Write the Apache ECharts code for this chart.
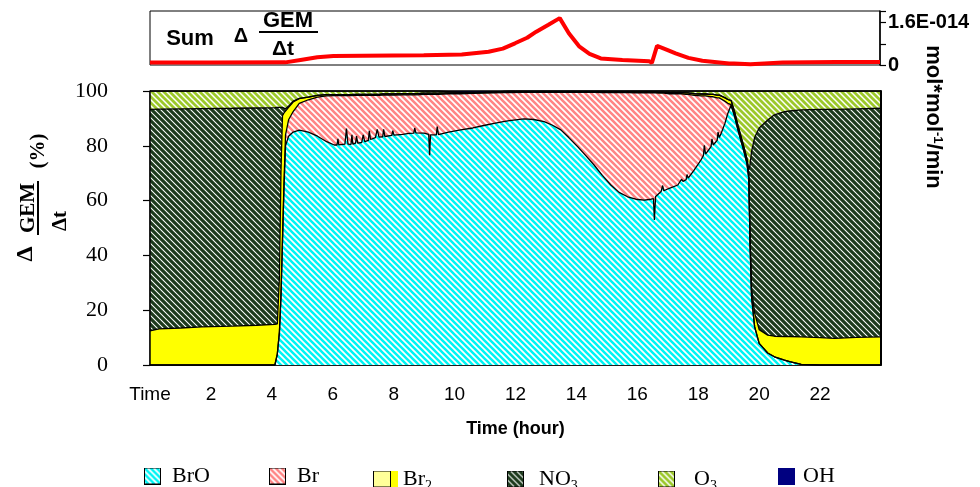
<!DOCTYPE html>
<html><head><meta charset="utf-8">
<script src="https://cdn.jsdelivr.net/npm/echarts@6/dist/echarts.min.js"></script>
<style>html,body{margin:0;padding:0;background:#fff}#c{width:980px;height:487px}</style>
</head><body><div id="c"></div>
<script>
// ---- data (percent of total dGEM/dt, hours) ----
const hours = [0.00,0.30,1.00,1.70,2.70,3.50,4.10,4.18,4.25,4.30,4.35,4.40,4.45,4.55,4.70,4.90,5.20,5.50,5.80,6.05,
6.14,6.17,6.20,6.40,6.45,6.50,6.60,6.63,6.66,6.75,6.78,6.82,6.95,7.00,7.05,7.17,7.20,7.24,7.40,7.46,7.52,7.64,7.67,7.71,7.94,7.97,8.01,
8.30,8.50,8.66,8.69,8.73,9.00,9.15,9.18,9.21,9.40,9.43,9.47,9.80,10.20,10.60,11.00,11.30,11.60,11.80,12.28,12.60,12.94,13.20,13.49,13.75,
14.04,14.30,14.58,14.85,15.13,15.40,15.68,15.95,16.23,16.45,16.53,16.56,16.60,16.70,16.78,16.83,16.87,17.05,17.33,17.45,17.50,17.60,17.63,17.67,
17.87,18.10,18.17,18.20,18.24,18.42,18.45,18.49,18.62,18.65,18.69,18.75,18.87,18.97,19.08,19.20,19.30,19.40,19.50,19.60,19.66,19.70,19.75,19.85,
20.00,20.28,20.50,20.83,21.00,21.38,22.00,22.47,23.20,24.00];
const broValues = [0,0,0,0,0,0,0,4,12,25,45,65,80,83.5,85,85.7,85,83.5,81.5,80.3,
80.3,82.5,80.3,80.6,86.3,80.6,80.5,84.0,80.6,81.0,83.5,81.0,81.2,84.0,81.5,82.0,85.5,82.3,83.0,86.0,83.2,83.3,86.0,83.4,83.8,85.5,83.9,
84.2,84.5,84.6,86.5,84.7,84.6,84.2,76.6,84.0,84.0,87.0,84.1,85.0,85.8,86.5,87.5,88.2,88.8,89.2,89.8,89.6,88.8,87.6,85.8,83.0,
79.7,76.5,73.0,69.2,65.7,63.0,61.4,60.5,60.2,60.5,60.7,52.9,61.5,62.5,63.3,65.5,63.6,64.5,65.7,67.8,67.0,67.6,69.5,68.2,
71.2,75.0,76.5,80.2,77.0,79.7,82.5,80.3,82.0,85.0,83.0,84.5,88.0,91.8,94.9,90.5,86,82,78,73.5,68,45,25,14,
7.9,4.4,3,1.8,1.2,0.2,0,0,0,0];
const brValues = [0,0,0,0,0,0,0,0,0.2,0.5,1,2,4,6,7.5,9.8,11.8,14.3,16.7,18.0,
18.0,15.8,18.0,17.7,12.0,17.7,17.8,14.3,17.7,17.4,14.9,17.4,17.2,14.4,16.9,16.4,12.9,16.1,15.4,12.4,15.2,15.2,12.5,15.1,14.7,13.0,14.6,
14.4,14.1,14.0,12.1,13.9,14.2,14.6,22.2,14.8,14.8,11.8,14.7,14.0,13.2,12.6,11.7,11.1,10.6,10.2,9.7,9.9,10.7,11.9,13.7,16.5,
19.8,23.0,26.5,30.2,33.7,36.4,38.0,38.8,39.1,38.8,38.6,46.4,37.8,36.7,35.9,33.7,35.6,34.5,33.3,31.2,31.8,31.2,29.3,30.6,
27.2,23.2,21.7,18.0,21.2,18.2,15.4,17.6,15.5,12.5,14.5,12.5,8.3,3.7,0.1,0.1,0,0,0,0,0,0,0,0,
0,0,0,0,0,0,0,0,0,0];
const br2Values = [12.5,13.2,13.5,13.9,14.2,14.5,14.8,11,20,45,45,25,8.5,4.5,3.5,1.7,1,0.6,0.5,0.4,
0.4,0.4,0.4,0.4,0.4,0.4,0.4,0.4,0.4,0.4,0.4,0.4,0.4,0.4,0.4,0.4,0.4,0.4,0.4,0.4,0.4,0.4,0.4,0.4,0.4,0.4,0.4,
0.4,0.4,0.4,0.4,0.4,0.4,0.4,0.4,0.4,0.4,0.4,0.4,0.3,0.3,0.3,0.3,0.3,0.3,0.3,0.3,0.3,0.3,0.3,0.3,0.3,
0.3,0.3,0.3,0.3,0.3,0.3,0.3,0.3,0.3,0.3,0.3,0.3,0.3,0.3,0.3,0.3,0.3,0.4,0.4,0.4,0.5,0.5,0.5,0.5,
0.6,0.7,0.7,0.7,0.7,0.9,0.9,0.9,1.0,1.0,1.0,1.2,1.3,1.4,1.5,1.5,1.5,1.5,1.5,1.5,1.8,2,3,5,
5,6.5,7.5,8.6,9.2,10.1,10,9.7,10.1,10.3];
const no3Values = [80.8,80.2,80.0,79.7,79.5,79.3,79.1,79,61.8,23.5,3,1.5,1,0.5,0.3,0.1,0,0,0,0,
0,0,0,0,0,0,0,0,0,0, 0,0,0,0,0,0,0,0,0,0, 0,0,0,0,0,0,0,0,0,0,
0,0,0,0,0,0,0,0,0,0, 0,0,0,0,0,0,0,0,0,0, 0,0,0,0,0,0,0,0,0,0,
0,0,0,0,0,0,0,0,0,0, 0,0,0,0,0,0,0,0,0,0, 0,0,0,0,0,0,0,0,0,0,
0,0,0,0,0,
0.3,1.5,26,50,64,
73.6,78.5,80.8,82.1,82.3,82.8,83.3,83.6,83.4,83.4];
const o3Values = [6.7,6.6,6.5,6.4,6.3,6.2,6.1,6,6,6,6,6.5,6.5,5.5,3.7,2.7,2.2,1.6,1.3,1.3,
1.3,1.3,1.3,1.3,1.3,1.3,1.3,1.3,1.3,1.2,1.2,1.2,1.2,1.2,1.2,1.2,1.2,1.2,1.2,1.2,1.2,1.1,1.1,1.1,1.1,1.1,1.1,
1.0,1.0,1.0,1.0,1.0,0.8,0.8,0.8,0.8,0.8,0.8,0.8,0.5,0.2,0.1,0,0,0.2,0.3,0.2,0.2,0.2,0.2,0.2,0.2,
0.2,0.2,0.2,0.3,0.3,0.3,0.3,0.4,0.4,0.4,0.4,0.4,0.4,0.5,0.5,0.5,0.5,0.6,0.6,0.6,0.7,0.7,0.7,0.7,
1.0,1.1,1.1,1.1,1.1,1.2,1.2,1.2,1.5,1.5,1.5,1.8,2.4,3.1,3.5,7.9,12.5,16.5,20.5,24.7,28.7,27,22,17,
13.5,10.6,8.7,7.5,7.3,6.9,6.7,6.7,6.5,6.3];
const ohValues = [0,0,0,0,0,0,0,0,0,0, 0,0,0,0,0,0,0,0,0,0, 0,0,0,0,0,0,0,0,0,0,
0,0,0,0,0,0,0,0,0,0, 0,0,0,0,0,0,0,0,0,0, 0,0,0,0,0,0,0,0,0,
0.2,0.5,0.5,0.5,0.4,0.1,
0,0,0,0,0,0,0,0,0,0, 0,0,0,0,0,0,0,0,0,0, 0,0,0,0,0,0,0,0,0,0,
0,0,0,0,0,0,0,0,0,0, 0,0,0,0,0,0,0,0,0,0, 0,0,0,0,0,0,0,0,0,0,
0,0,0,0,0];
// Sum dGEM/dt, in units of 1E-014 mol*mol-1/min
const sumHours = [0,2,4.45,5.0,5.5,6.03,7,8,9,10.25,11.13,11.6,12.0,12.4,12.7,13.1,13.47,13.77,14.12,14.45,14.82,15.53,16.41,16.5,16.67,17.0,17.28,17.7,18.16,19.04,19.1,19.2,19.74,20.8,22.56,24];
const sumValues = [0.09,0.09,0.10,0.20,0.29,0.34,0.35,0.36,0.37,0.40,0.50,0.62,0.82,1.03,1.26,1.52,1.77,1.20,0.69,0.42,0.25,0.19,0.14,0.08,0.72,0.57,0.44,0.27,0.16,0.06,0.10,0.06,0.03,0.09,0.11,0.11];
const xTickLabels = ['Time','2','4','6','8','10','12','14','16','18','20','22',''];
const seriesNames = ['BrO','Br','Br2','NO3','O3','OH'];

// ---- styling helpers ----
function stripes(fg, bg, s, lw) {
  const c = document.createElement('canvas'); c.width = s; c.height = s;
  const g = c.getContext('2d');
  g.fillStyle = bg; g.fillRect(0, 0, s, s);
  g.strokeStyle = fg; g.lineWidth = lw;
  g.beginPath();
  for (const k of [-1, 0, 1]) { g.moveTo(k * s - 2, -2); g.lineTo(k * s + s + 2, s + 2); }
  g.stroke();
  return c;
}
const pats = {
  BrO: stripes('#00f4f4', '#ffffff', 6, 2.6),
  Br: stripes('#ff8585', '#ffffff', 6, 2.6),
  Br2: null,
  NO3: stripes('#1c3a1c', '#ffffff', 6, 3.2),
  O3: stripes('#9cc82a', '#ffffff', 6, 2.8),
  OH: null
};
const fills = {
  BrO: {image: pats.BrO, repeat: 'repeat'},
  Br: {image: pats.Br, repeat: 'repeat'},
  Br2: '#ffff00',
  NO3: {image: pats.NO3, repeat: 'repeat'},
  O3: {image: pats.O3, repeat: 'repeat'},
  OH: '#000080'
};
function legendIcon(name, w, h) {
  const c = document.createElement('canvas'); c.width = w; c.height = h;
  const g = c.getContext('2d');
  const bw = name === 'Br2' ? 18 : 17;
  if (name === 'Br2') {
    g.fillStyle = '#ffff00'; g.fillRect(bw, 0, 8, h);
    g.fillStyle = '#ffff99';
  } else if (pats[name]) g.fillStyle = g.createPattern(pats[name], 'repeat');
  else g.fillStyle = fills[name];
  g.fillRect(0.5, 0.5, bw - 1, h - 1);
  g.strokeStyle = name === 'OH' ? '#000080' : '#000'; g.lineWidth = 1;
  g.strokeRect(0.5, 0.5, bw - 1, h - 1);
  return 'image://' + c.toDataURL();
}
const legendPos = {BrO: [144, 23], Br: [269, 23], Br2: [373, 25], NO3: [507, 27], O3: [658, 31], OH: [778, 20]};
const legendText = {BrO: '{a|BrO}', Br: '{a|Br}', Br2: '{a|Br}{b|2}', NO3: '{a|NO}{b|3}', O3: '{a|O}{b|3}', OH: '{a|OH}'};
const serif = '"Liberation Serif","Times New Roman",serif';
const sans = '"Liberation Sans",Arial,sans-serif';
const valuesByName = {BrO: broValues, Br: brValues, Br2: br2Values, NO3: no3Values, O3: o3Values, OH: ohValues};

const chart = echarts.init(document.getElementById('c'), null, {renderer: 'canvas'});
// value first so the stacked dimension is the y value; x (hour) is dimension 1
const stackSeries = seriesNames.map(n => ({
  name: n, type: 'line', xAxisIndex: 1, yAxisIndex: 1, stack: 'gem', stackStrategy: 'all',
  dimensions: ['v', 'h'], encode: {x: 1, y: 0},
  data: hours.map((h, j) => [valuesByName[n][j], h]),
  symbol: 'none', showSymbol: false, silent: true,
  color: fills[n],
  lineStyle: {color: '#000', width: 1.3},
  areaStyle: {color: fills[n], opacity: 1},
  emphasis: {disabled: true}
}));

chart.setOption({
  animation: false,
  backgroundColor: '#fff',
  grid: [
    {left: 150, right: 100, top: 11, height: 54, show: true, borderColor: '#000', borderWidth: 1, backgroundColor: 'transparent'},
    {left: 150, right: 99, top: 91, height: 274, show: true, borderColor: '#000', borderWidth: 1, backgroundColor: 'transparent'}
  ],
  xAxis: [
    {gridIndex: 0, type: 'value', min: 0, max: 24, show: false},
    {gridIndex: 1, type: 'value', min: 0, max: 24, interval: 2,
     axisLine: {onZero: false, lineStyle: {color: '#000', width: 1.5}}, axisTick: {show: false}, splitLine: {show: false},
     axisLabel: {color: '#000', fontFamily: sans, fontSize: 19, margin: 20, formatter: v => xTickLabels[Math.round(v / 2)]},
     name: 'Time (hour)', nameLocation: 'middle', nameGap: 55,
     nameTextStyle: {color: '#000', fontFamily: sans, fontWeight: 'bold', fontSize: 18}}
  ],
  yAxis: [
    {gridIndex: 0, type: 'value', position: 'right', min: 0, max: 2.04, interval: 0.8,
     axisLine: {show: true, onZero: false, lineStyle: {color: '#000', width: 1.5}},
     axisTick: {show: true, length: 6, lineStyle: {color: '#000', width: 1.2}},
     splitLine: {show: false},
     axisLabel: {color: '#000', fontFamily: sans, fontWeight: 'bold', fontSize: 20, margin: 8,
       formatter: v => Math.abs(v) < 1e-9 ? '0' : (Math.abs(v - 1.6) < 1e-6 ? '1.6E-014' : '')}},
    {gridIndex: 1, type: 'value', min: 0, max: 100, interval: 20, z: 10,
     axisLine: {show: true, onZero: false, lineStyle: {color: '#000', width: 1.5}},
     axisTick: {show: true, length: 7, lineStyle: {color: '#000', width: 1.2}},
     splitLine: {show: false},
     axisLabel: {color: '#000', fontFamily: serif, fontSize: 22, margin: 42}},
    {gridIndex: 1, type: 'value', position: 'right', min: 0, max: 100, z: 10,
     axisLine: {show: true, onZero: false, lineStyle: {color: '#000', width: 2}},
     axisTick: {show: false}, axisLabel: {show: false}, splitLine: {show: false}}
  ],
  legend: seriesNames.map(n => ({
    data: [{name: n, icon: legendIcon(n, legendPos[n][1], 17)}],
    left: legendPos[n][0], top: 465, padding: 0, itemGap: 0,
    itemWidth: legendPos[n][1], itemHeight: 17, selectedMode: false,
    formatter: () => legendText[n],
    textStyle: {color: '#000', rich: {
      a: {fontFamily: serif, fontSize: 22, color: '#000', lineHeight: 30},
      b: {fontFamily: serif, fontSize: 14, color: '#000', lineHeight: 14, padding: [14, 0, 0, 0]}
    }}
  })),
  graphic: [
    {type: 'text', x: 190, y: 39, style: {text: 'Sum', font: 'bold 22px ' + sans, fill: '#000', align: 'center', verticalAlign: 'middle'}},
    {type: 'text', x: 241, y: 36, style: {text: 'Δ', font: 'bold 20px ' + sans, fill: '#000', align: 'center', verticalAlign: 'middle'}},
    {type: 'text', x: 288, y: 21, style: {text: 'GEM', font: 'bold 22px ' + sans, fill: '#000', align: 'center', verticalAlign: 'middle'}},
    {type: 'line', shape: {x1: 259, y1: 32, x2: 318, y2: 32}, style: {stroke: '#000', lineWidth: 2}},
    {type: 'text', x: 283, y: 49, style: {text: 'Δt', font: 'bold 21px ' + sans, fill: '#000', align: 'center', verticalAlign: 'middle'}},
    {type: 'text', x: 26, y: 254, rotation: Math.PI / 2, style: {text: 'Δ', font: 'bold 24px ' + serif, fill: '#000', align: 'center', verticalAlign: 'middle'}},
    {type: 'text', x: 29, y: 208, rotation: Math.PI / 2, style: {text: 'GEM', font: 'bold 21px ' + serif, fill: '#000', align: 'center', verticalAlign: 'middle'}},
    {type: 'line', shape: {x1: 38, y1: 181, x2: 38, y2: 235}, style: {stroke: '#000', lineWidth: 2}},
    {type: 'text', x: 61, y: 221, rotation: Math.PI / 2, style: {text: 'Δt', font: 'bold 21px ' + serif, fill: '#000', align: 'center', verticalAlign: 'middle'}},
    {type: 'text', x: 39, y: 151, rotation: Math.PI / 2, style: {text: '(%)', font: 'bold 21px ' + serif, fill: '#000', align: 'center', verticalAlign: 'middle'}},
    {type: 'text', x: 933, y: 117, rotation: -Math.PI / 2, style: {text: '{a|mol*mol}{s|-1}{a|/min}', align: 'center', verticalAlign: 'middle',
      rich: {a: {font: 'bold 22px ' + sans, fill: '#000', lineHeight: 24}, s: {font: 'bold 13px ' + sans, fill: '#000', lineHeight: 13, padding: [0, 0, 10, 0]}}}}
  ],
  series: [
    {name: 'Sum', type: 'line', xAxisIndex: 0, yAxisIndex: 0, data: sumHours.map((h, j) => [h, sumValues[j]]),
     symbol: 'none', silent: true, lineStyle: {color: '#ff0000', width: 4}, itemStyle: {color: '#ff0000'}, emphasis: {disabled: true}}
  ].concat(stackSeries)
});
</script></body></html>
